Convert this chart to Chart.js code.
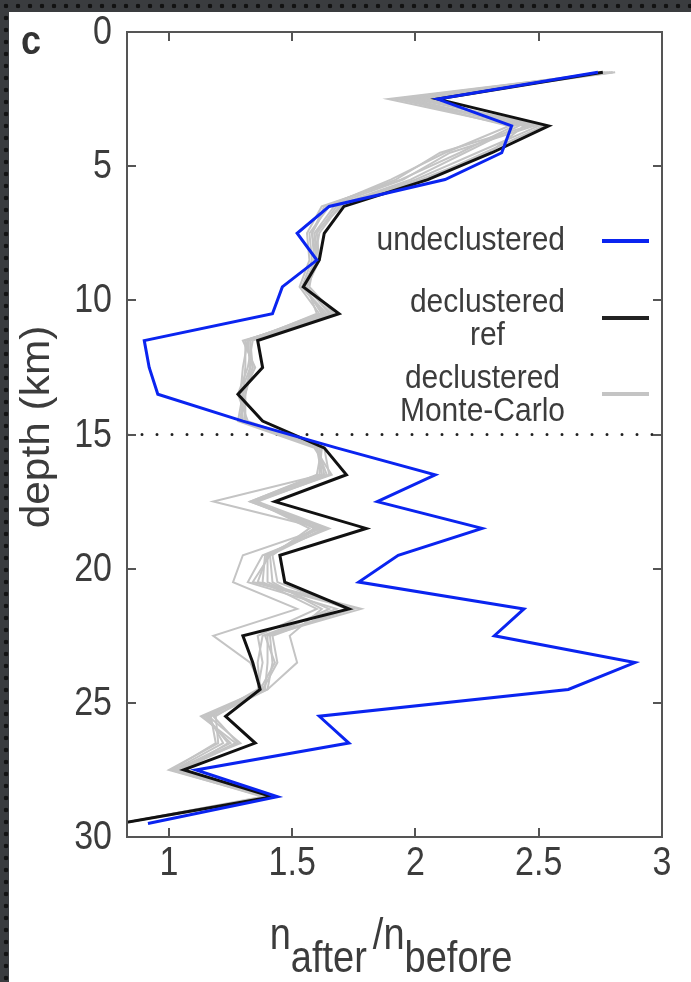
<!DOCTYPE html>
<html>
<head>
<meta charset="utf-8">
<script src="https://cdn.jsdelivr.net/npm/chart.js@4.4.1/dist/chart.umd.min.js"></script>
<style>
  html, body { margin: 0; padding: 0; }
  body {
    width: 691px; height: 982px; overflow: hidden; position: relative;
    background-color: #3a3c3f;
    background-image: radial-gradient(circle, #121212 2px, transparent 2.6px);
    background-size: 12px 12px;
  }
  #panel { position: absolute; left: 9px; top: 12px; right: 0; bottom: 0; background: #fff; }
  #chart { position: absolute; left: 0; top: 0; }
</style>
</head>
<body>
<div id="panel"></div>
<canvas id="chart" width="691" height="982"></canvas>
<script>
// depth bins (km)
const depths = [1.5, 2.5, 3.5, 4.5, 5.5, 6.5, 7.5, 8.5, 9.5, 10.5, 11.5, 12.5, 13.5, 14.5, 15.5,
    16.5, 17.5, 18.5, 19.5, 20.5, 21.5, 22.5, 23.5, 24.5, 25.5, 26.5, 27.5, 28.5, 29.5];

const undeclustered = [2.74, 2.09, 2.39, 2.35, 2.12, 1.65, 1.52, 1.60, 1.46, 1.42, 0.90, 0.92, 0.955, 1.30, 1.68,
    2.08, 1.845, 2.27, 1.93, 1.77, 2.44, 2.32, 2.89, 2.62, 1.61, 1.73, 1.11, 1.44, 0.915];

const declusteredRef = [2.76, 2.09, 2.54, 2.31, 2.05, 1.71, 1.63, 1.61, 1.545, 1.69, 1.36, 1.38, 1.28, 1.38, 1.63,
    1.72, 1.43, 1.80, 1.45, 1.47, 1.73, 1.30, 1.34, 1.37, 1.23, 1.35, 1.06, 1.42, 0.80];

// Monte-Carlo declustering runs
const monteCarlo = [
    [2.78, 1.92, 2.46, 2.10, 1.92, 1.63, 1.58, 1.59, 1.55, 1.62, 1.32, 1.33, 1.29, 1.30, 1.61, 1.62, 1.18, 1.62, 1.30, 1.26, 1.52, 1.18, 1.33, 1.38, 1.16, 1.22, 1.02, 1.40, 0.80],
    [2.80, 1.95, 2.48, 2.14, 1.95, 1.65, 1.57, 1.58, 1.54, 1.64, 1.31, 1.31, 1.30, 1.29, 1.60, 1.64, 1.34, 1.60, 1.40, 1.36, 1.78, 1.40, 1.40, 1.39, 1.14, 1.25, 1.03, 1.41, 0.80],
    [2.76, 1.98, 2.42, 2.20, 1.98, 1.67, 1.59, 1.60, 1.56, 1.60, 1.33, 1.34, 1.31, 1.31, 1.62, 1.60, 1.33, 1.63, 1.41, 1.42, 1.62, 1.49, 1.52, 1.40, 1.18, 1.28, 1.05, 1.43, 0.80],
    [2.81, 2.02, 2.50, 2.25, 2.00, 1.68, 1.60, 1.61, 1.55, 1.66, 1.34, 1.32, 1.28, 1.32, 1.63, 1.65, 1.36, 1.65, 1.38, 1.32, 1.68, 1.38, 1.36, 1.37, 1.19, 1.20, 1.00, 1.39, 0.80],
    [2.77, 2.05, 2.44, 2.30, 2.02, 1.69, 1.61, 1.59, 1.57, 1.67, 1.30, 1.35, 1.30, 1.28, 1.59, 1.66, 1.35, 1.57, 1.42, 1.44, 1.72, 1.42, 1.44, 1.38, 1.13, 1.27, 1.04, 1.44, 0.80],
    [2.79, 1.89, 2.40, 2.18, 1.94, 1.62, 1.56, 1.57, 1.53, 1.61, 1.32, 1.30, 1.29, 1.30, 1.61, 1.63, 1.34, 1.64, 1.39, 1.38, 1.60, 1.36, 1.38, 1.36, 1.17, 1.19, 1.01, 1.38, 0.80],
    [2.75, 2.00, 2.52, 2.28, 2.04, 1.70, 1.59, 1.61, 1.56, 1.65, 1.33, 1.33, 1.31, 1.29, 1.62, 1.61, 1.33, 1.61, 1.40, 1.40, 1.65, 1.41, 1.42, 1.40, 1.15, 1.24, 1.06, 1.42, 0.80],
    [2.80, 1.94, 2.38, 2.12, 1.90, 1.64, 1.58, 1.60, 1.54, 1.63, 1.31, 1.34, 1.30, 1.31, 1.60, 1.62, 1.35, 1.59, 1.41, 1.34, 1.75, 1.39, 1.43, 1.37, 1.16, 1.29, 1.02, 1.40, 0.80]
];

const xTicks = [1, 1.5, 2, 2.5, 3];
const yTicks = [0, 5, 10, 15, 20, 25, 30];
const xRange = [0.83, 3];
const yRange = [0, 30];
const separationDepth = 15;

const BLUE = '#0a24f0';
const BLACK = '#111111';
const GREY = '#c4c4c4';
const AXIS = '#555555';
const TEXT = '#3c3c3c';
const FONT = "'Liberation Sans', Arial, sans-serif";
const STRETCH = 1.18; // the figure's text is taller than it is wide

const toPoints = vals => vals.map((v, i) => ({ x: v, y: depths[i] }));

const datasets = [
    { label: 'undeclustered', data: toPoints(undeclustered), borderColor: BLUE, borderWidth: 3, order: 0 },
    { label: 'declustered ref', data: toPoints(declusteredRef), borderColor: BLACK, borderWidth: 3, order: 1 }
];
monteCarlo.forEach((run, i) => {
    datasets.push({ label: 'mc' + i, data: toPoints(run), borderColor: GREY, borderWidth: 2, order: 2 });
});
datasets.push({
    label: 'sep',
    data: [{ x: xRange[0], y: separationDepth }, { x: xRange[1], y: separationDepth }],
    borderColor: '#222', borderWidth: 3, borderDash: [0, 15], borderCapStyle: 'round', order: 3
});

function tallText(ctx, text, x, y, sy) {
    ctx.save();
    ctx.translate(x, y);
    ctx.scale(1, sy);
    ctx.fillText(text, 0, 0);
    ctx.restore();
}

// box, inward ticks, tick labels, legend and axis titles
const decorations = {
    id: 'decorations',
    afterDraw(chart) {
        const { ctx, chartArea: a, scales: { x, y } } = chart;
        ctx.save();
        ctx.strokeStyle = AXIS;
        ctx.lineWidth = 2;
        ctx.strokeRect(a.left, a.top, a.right - a.left, a.bottom - a.top);
        ctx.beginPath();
        xTicks.forEach(v => {
            const px = Math.round(x.getPixelForValue(v));
            if (px >= a.right - 1) return;
            ctx.moveTo(px, a.bottom); ctx.lineTo(px, a.bottom - 9);
            ctx.moveTo(px, a.top); ctx.lineTo(px, a.top + 9);
        });
        yTicks.forEach(v => {
            const py = Math.round(y.getPixelForValue(v));
            if (py <= a.top + 1 || py >= a.bottom - 1) return;
            ctx.moveTo(a.left, py); ctx.lineTo(a.left + 9, py);
            ctx.moveTo(a.right, py); ctx.lineTo(a.right - 9, py);
        });
        ctx.stroke();

        // tick labels
        ctx.fillStyle = TEXT;
        ctx.font = '34px ' + FONT;
        ctx.textBaseline = 'middle';
        ctx.textAlign = 'right';
        yTicks.forEach(v => tallText(ctx, String(v), a.left - 15, y.getPixelForValue(v) + 1, STRETCH));
        ctx.textAlign = 'center';
        xTicks.forEach(v => tallText(ctx, String(v), x.getPixelForValue(v), a.bottom + 27, STRETCH));

        // legend
        const items = [
            { lines: ['undeclustered'], color: BLUE, base: 250, sample: 241 },
            { lines: ['declustered', 'ref'], color: '#222', base: 312, sample: 318 },
            { lines: ['declustered', 'Monte-Carlo'], color: GREY, base: 388, sample: 394 }
        ];
        ctx.font = '30px ' + FONT;
        ctx.textAlign = 'center';
        ctx.textBaseline = 'alphabetic';
        items.forEach(it => {
            const w = Math.max(...it.lines.map(t => ctx.measureText(t).width));
            const cx = 565 - w / 2;
            it.lines.forEach((t, k) => tallText(ctx, t, cx, it.base + k * 33, 1.1));
            ctx.strokeStyle = it.color;
            ctx.lineWidth = 4;
            ctx.beginPath();
            ctx.moveTo(602, it.sample); ctx.lineTo(649, it.sample);
            ctx.stroke();
        });

        // y title
        ctx.save();
        ctx.translate(49, 427);
        ctx.rotate(-Math.PI / 2);
        ctx.scale(1.06, 1);
        ctx.font = '40px ' + FONT;
        ctx.textAlign = 'center';
        ctx.fillText('depth (km)', 0, 0);
        ctx.restore();

        // x title n_after / n_before
        const parts = [['n', 0], ['after', 1], ['/n', 0], ['before', 1]];
        ctx.font = '38px ' + FONT;
        ctx.textAlign = 'left';
        const total = parts.reduce((s, p) => s + ctx.measureText(p[0]).width, 0) + 6;
        let px = 391 - total / 2;
        parts.forEach(([t, sub], k) => {
            tallText(ctx, t, px, sub ? 972 : 949, 1.15);
            px += ctx.measureText(t).width + (k === 1 ? 6 : 0);
        });

        // panel letter
        ctx.font = 'bold 36px ' + FONT;
        ctx.fillStyle = '#333';
        tallText(ctx, 'c', 21, 54, 1.15);
        ctx.restore();
    }
};

new Chart(document.getElementById('chart'), {
    type: 'line',
    data: { datasets },
    options: {
        responsive: false,
        animation: false,
        layout: { padding: { left: 0, right: 29, top: 32, bottom: 0 } },
        elements: { point: { radius: 0 }, line: { tension: 0, borderJoinStyle: 'miter' } },
        plugins: { legend: { display: false }, tooltip: { enabled: false } },
        scales: {
            x: {
                type: 'linear', position: 'bottom',
                min: xRange[0], max: xRange[1],
                afterBuildTicks: s => { s.ticks = xTicks.map(v => ({ value: v })); },
                afterFit: s => { s.height = 145; },
                grid: { display: false }, border: { display: false },
                ticks: { display: false }
            },
            y: {
                type: 'linear', position: 'left', reverse: true,
                min: yRange[0], max: yRange[1],
                afterBuildTicks: s => { s.ticks = yTicks.map(v => ({ value: v })); },
                afterFit: s => { s.width = 127; },
                grid: { display: false }, border: { display: false },
                ticks: { display: false }
            }
        }
    },
    plugins: [decorations]
});
</script>
</body>
</html>
